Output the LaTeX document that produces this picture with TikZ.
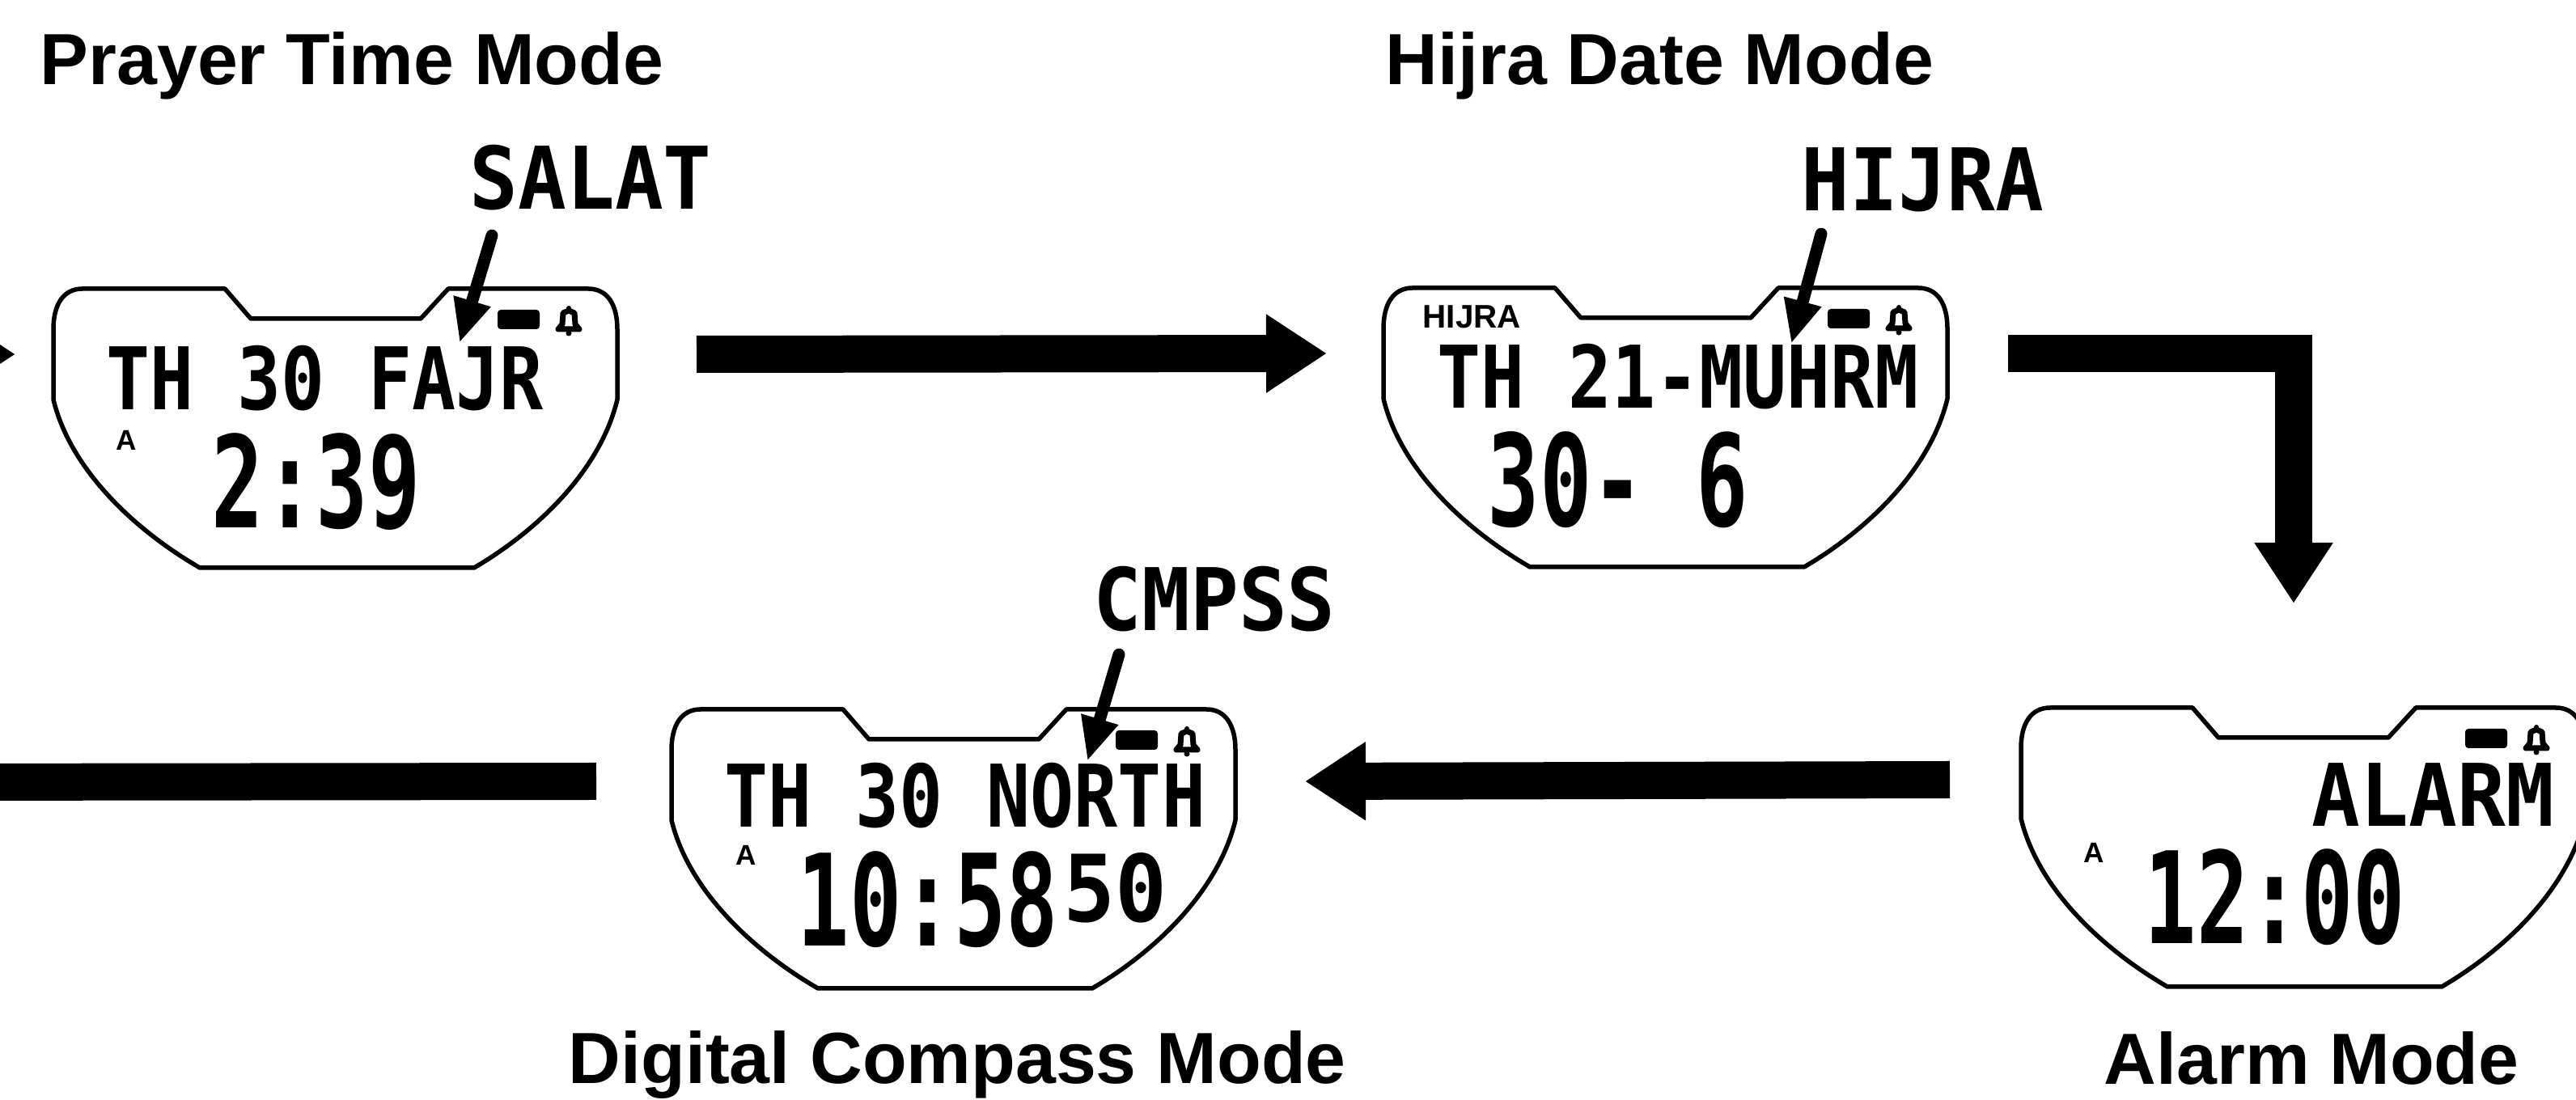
\documentclass[tikz,border=0pt]{standalone}
\usepackage{fontspec}
\usepackage{tikz}
\usetikzlibrary{arrows.meta}
\setmainfont{Liberation Sans}
\newfontfamily\lcdnarrow[FakeStretch=0.84]{DejaVu Sans Mono}
\newfontfamily\lcdwide[FakeStretch=0.93]{DejaVu Sans Mono}
\newfontfamily\lcddigit[FakeStretch=0.68]{DejaVu Sans Mono}
\tikzset{
  title/.style={font=\fontsize{25.5}{30}\selectfont\bfseries,anchor=base west,inner sep=0pt},
  lcdline/.style={font=\fontsize{30.4}{36}\selectfont\lcdnarrow\bfseries,anchor=base west,inner sep=0pt},
  lcdword/.style={font=\fontsize{30.4}{36}\selectfont\lcdwide\bfseries,anchor=base west,inner sep=0pt},
  lcdbig/.style={font=\fontsize{44.8}{50}\selectfont\lcddigit\bfseries,anchor=base west,inner sep=0pt},
  lcdsec/.style={font=\fontsize{32.6}{36}\selectfont\lcdwide\bfseries,anchor=base west,inner sep=0pt},
  tiny/.style={font=\fontsize{10}{12}\selectfont\bfseries,anchor=base west,inner sep=0pt},
  fat/.style={->,line width=.46cm},
  pointer/.style={-{Triangle[length=5.4mm,width=4.4mm]},line width=.15cm,line cap=round},
  screen/.pic={
    \draw[line width=.055cm,line join=round] (0,-.50) .. controls (0,-.2) and (.12,0) .. (.36,0) -- (2.12,0) -- (2.44,-.37) -- (4.54,-.37) -- (4.88,0) -- (6.61,0) .. controls (6.85,0) and (6.97,-.2) .. (6.97,-.50) -- (6.97,-1.37) .. controls (6.77,-2.2) and (6.05,-2.95) .. (5.2,-3.45) -- (1.81,-3.45) .. controls (.95,-2.95) and (.2,-2.2) .. (0,-1.37) -- cycle;
    \fill[rounded corners=.04cm] (5.49,-.26) rectangle (6.01,-.50);
    \draw[line width=.07cm,line join=round] (6.24,-.50) -- (6.29,-.44) -- (6.30,-.30) -- (6.37,-.27) -- (6.44,-.30) -- (6.45,-.44) -- (6.50,-.50) -- cycle;
    \fill (6.37,-.55) circle (.035);
    \fill (6.37,-.24) circle (.03);
    \coordinate (-in) at (0,-.81);
    \coordinate (-out) at (6.97,-.81);
    \coordinate (-top) at (3.37,0);
  }
}
\begin{document}
\begin{tikzpicture}[>={Triangle[length=7.5mm,width=9.2mm]}]
\useasboundingbox (0,0) rectangle (31.84,13.6);
\clip (0,0) rectangle (31.84,13.6);
\pic (prayer) at (0.66,10.03) {screen};
\pic (hijra) at (17.10,10.04) {screen};
\pic (compass) at (8.30,4.83) {screen};
\pic (alarm) at (24.98,4.85) {screen};
\node[title] (prayertitle) at (0.49,12.55) {Prayer Time Mode};
\node[title] (hijratitle) at (17.12,12.55) {Hijra Date Mode};
\node[title] (compasstitle) at (7.02,0.20) {Digital Compass Mode};
\node[title] (alarmtitle) at (26.00,0.19) {Alarm Mode};
\node[lcdword] (salat) at (5.80,11.01) {SALAT};
\node[lcdword] (hijraword) at (22.26,10.99) {HIJRA};
\node[lcdword] (cmpss) at (13.51,5.80) {CMPSS};
\node[lcdline] (prayerline) at (1.31,8.53) {TH 30 FAJR};
\node[lcdline] (hijraline) at (17.76,8.55) {TH 21-MUHRM};
\node[lcdline] (compassline) at (8.95,3.37) {TH 30 NORTH};
\node[lcdword] (alarmword) at (28.57,3.38) {ALARM};
\node[lcdbig] (prayertime) at (2.61,7.07) {2:39};
\node[lcdbig] (hijradate) at (18.38,7.09) {30- 6};
\node[lcdbig] (compasstime) at (9.85,1.90) {10:58};
\node[lcdsec] (compasssec) at (13.14,2.20) {50};
\node[lcdbig] (alarmtime) at (26.50,1.93) {12:00};
\node[tiny] (prayera) at (1.43,8.03) {A};
\node[tiny] (compassa) at (9.09,2.90) {A};
\node[tiny] (alarma) at (25.75,2.93) {A};
\node[tiny,font=\fontsize{11.5}{12}\selectfont\bfseries] (hijrasmall) at (17.58,9.54) {HIJRA};
\coordinate (salattip) at (5.68,9.36);
\coordinate (hijratip) at (22.14,9.35);
\coordinate (cmpsstip) at (13.44,4.19);
\draw[pointer] ([shift={(.28,-.30)}]salat.south west) -- (salattip);
\draw[pointer] ([shift={(.25,-.26)}]hijraword.south west) -- (hijratip);
\draw[pointer] ([shift={(.32,-.27)}]cmpss.south west) -- (cmpsstip);
\coordinate (incoming) at (-1,9.22);
\coordinate (outgoing) at (-1,3.93);
\draw[fat] (incoming) -- ([xshift=-.47cm]prayer-in);
\draw[fat] ([xshift=.98cm]prayer-out) -- ([xshift=-.70cm]hijra-in);
\draw[fat] ([xshift=.75cm]hijra-out) -| ([yshift=1.29cm]alarm-top);
\draw[fat] ([shift={(-.88,-.08)}]alarm-in) -- ([shift={(.86,-.08)}]compass-out);
\draw[line width=.46cm] ([shift={(-.93,-.08)}]compass-in) -- (outgoing);
\end{tikzpicture}
\end{document}
